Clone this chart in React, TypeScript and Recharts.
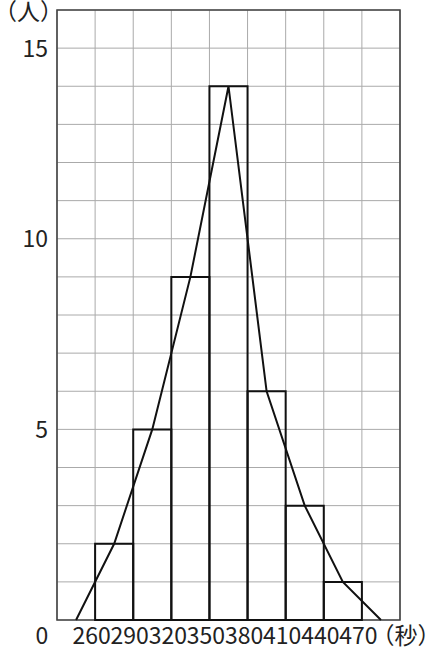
import {
  CartesianGrid,
  ComposedChart,
  Line,
  ReferenceArea,
  XAxis,
  YAxis,
} from "recharts";

// class boundaries (seconds) and counts (people)
const binStarts = [260, 290, 320, 350, 380, 410, 440];
const binWidth = 30;
const counts = [2, 5, 9, 14, 6, 3, 1];

// frequency polygon: class midpoints plus empty classes at both ends
const polygonX = [245, 275, 305, 335, 365, 395, 425, 455, 485];
const polygonY = [0, 2, 5, 9, 14, 6, 3, 1, 0];

const xTicks = [230, 260, 290, 320, 350, 380, 410, 440, 470, 500];
const yTicks = [0, 1, 2, 3, 4, 5, 6, 7, 8, 9, 10, 11, 12, 13, 14, 15, 16];
const yLabels = [5, 10, 15];

const polygonData = polygonX.map((x, i) => ({ x, y: polygonY[i] }));

const FONT = "'Noto Sans CJK JP', 'Noto Sans', sans-serif";

function XTick(props: any) {
  const { x, y, payload } = props;
  const v = payload.value;
  let label = String(v);
  let dx = -3.5;
  if (v === 230) {
    label = "0";
    dx = -15;
  } else if (v === 500) {
    label = "（秒）";
    dx = 6;
  }
  return (
    <text
      x={x + dx}
      y={y + 16}
      textAnchor="middle"
      fontSize={23}
      fontFamily={FONT}
      fill="#222"
    >
      {label}
    </text>
  );
}

function YTick(props: any) {
  const { x, y, payload } = props;
  const v = payload.value;
  if (v === 16) {
    return (
      <text
        x={28.5}
        y={y + 10}
        textAnchor="middle"
        fontSize={23}
        fontFamily={FONT}
        fill="#222"
      >
        （人）
      </text>
    );
  }
  if (!yLabels.includes(v)) return <g />;
  return (
    <text
      x={x}
      y={y + 8.5}
      textAnchor="end"
      fontSize={23}
      fontFamily={FONT}
      fill="#222"
    >
      {v}
    </text>
  );
}

export default function App() {
  return (
    <div style={{ position: "absolute", left: 0, top: 0, background: "#fff" }}>
      <ComposedChart
        width={434}
        height={647}
        data={polygonData}
        margin={{ top: 10, right: 34, left: 0, bottom: 0 }}
      >
        <CartesianGrid stroke="#aaa" strokeWidth={1} />
        <XAxis
          dataKey="x"
          type="number"
          domain={[230, 500]}
          ticks={xTicks}
          interval={0}
          height={27}
          axisLine={false}
          tickLine={false}
          tick={<XTick />}
        />
        <YAxis
          type="number"
          domain={[0, 16]}
          ticks={yTicks}
          interval={0}
          width={57}
          axisLine={false}
          tickLine={false}
          tickMargin={3}
          tick={<YTick />}
        />
        <ReferenceArea
          x1={230}
          x2={500}
          y1={0}
          y2={16}
          fill="none"
          stroke="#444"
          strokeWidth={1.6}
          fillOpacity={0}
        />
        {binStarts.map((s, i) => (
          <ReferenceArea
            key={s}
            x1={s}
            x2={s + binWidth}
            y1={0}
            y2={counts[i]}
            fill="none"
            fillOpacity={0}
            stroke="#111"
            strokeWidth={2}
          />
        ))}
        <Line
          dataKey="y"
          type="linear"
          stroke="#111"
          strokeWidth={2}
          dot={false}
          isAnimationActive={false}
        />
      </ComposedChart>
    </div>
  );
}
